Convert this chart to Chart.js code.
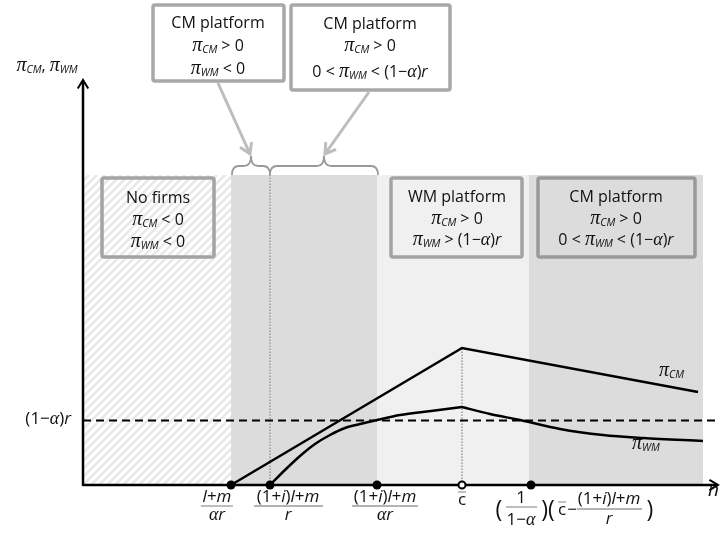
<!DOCTYPE html>
<html>
<head>
<meta charset="utf-8">
<script src="https://cdn.jsdelivr.net/npm/chart.js@4"></script>
<style>
  html, body { margin: 0; padding: 0; background: #fff; }
  #chart { display: block; }
</style>
</head>
<body>
<canvas id="chart" width="720" height="536"></canvas>
<script>
// Data (x = output n, y = profit, arbitrary units)
const tickX = [148, 187, 294, 448];          // filled markers on the n axis
const cbarX = 379;                           // c-bar (open marker)
const regionEdges = [0, 148, 294, 446, 620]; // no firms | CM | WM | CM
const regionTop = 310;
const threshold = 64.5;                      // (1-alpha) r

const cmX = [148, 379, 615];
const cmY = [0, 137, 93];

const wmRiseX = [187, 202, 217, 232, 247, 262, 277, 294, 317, 348, 379];
const wmRiseY = [0, 15, 29, 41, 50, 57, 61, 65, 70, 74, 78];
const wmFallX = [379, 407, 437, 477, 520, 560, 620];
const wmFallY = [78, 71, 65, 56, 50, 47, 44];

const xMax = 637;
const yMax = 405;

// Fonts
const SANS = '16px "Open Sans"';
const ISANS = 'italic 16px "Open Sans"';
const LSANS = '17px "Open Sans"';
const LISANS = 'italic 17px "Open Sans"';
const PI = 'italic 20px "Liberation Serif"';
const ALPHA = 'italic 18px "Liberation Serif"';
const SUB = 'italic 10.5px "Open Sans"';

const toXY = (xs, ys) => xs.map((v, i) => ({ x: v, y: ys[i] }));

function pi(sub) {
  return [['π', PI, 0], [sub, SUB, 4]];
}

function drawRuns(ctx, runs, x, y, align) {
  let w = 0;
  runs.forEach(r => { ctx.font = r[1]; w += ctx.measureText(r[0]).width; });
  let cx = align === 'left' ? x : align === 'right' ? x - w : x - w / 2;
  ctx.textAlign = 'left';
  ctx.textBaseline = 'middle';
  runs.forEach(r => {
    ctx.font = r[1];
    ctx.fillText(r[0], cx, y + (r[2] || 0));
    cx += ctx.measureText(r[0]).width;
  });
  return w;
}

function hatch(ctx) {
  const c = document.createElement('canvas');
  c.width = 8; c.height = 8;
  const p = c.getContext('2d');
  p.fillStyle = '#fff';
  p.fillRect(0, 0, 8, 8);
  p.strokeStyle = '#e8e8e8';
  p.lineWidth = 2.5;
  p.beginPath();
  p.moveTo(-2, 10); p.lineTo(10, -2);
  p.moveTo(-2, 2); p.lineTo(2, -2);
  p.moveTo(6, 10); p.lineTo(10, 6);
  p.stroke();
  return ctx.createPattern(c, 'repeat');
}

function box(ctx, l, t, r, b, color, fill) {
  ctx.save();
  ctx.lineWidth = 3.5;
  ctx.strokeStyle = color;
  ctx.beginPath();
  ctx.roundRect(l, t, r - l, b - t, 2);
  if (fill) { ctx.fillStyle = fill; ctx.fill(); }
  ctx.stroke();
  ctx.restore();
}

function line(ctx, x1, y1, x2, y2) {
  ctx.beginPath(); ctx.moveTo(x1, y1); ctx.lineTo(x2, y2); ctx.stroke();
}

function arrowHead(ctx, x1, y1, x2, y2, size) {
  const a = Math.atan2(y2 - y1, x2 - x1);
  ctx.beginPath();
  ctx.moveTo(x2 - size * Math.cos(a - 0.55), y2 - size * Math.sin(a - 0.55));
  ctx.lineTo(x2, y2);
  ctx.lineTo(x2 - size * Math.cos(a + 0.55), y2 - size * Math.sin(a + 0.55));
  ctx.stroke();
}

function brace(ctx, l, r, base) {
  const mid = (l + r) / 2, h = base - 9, tip = base - 19, rad = 7;
  ctx.beginPath();
  ctx.moveTo(l, base);
  ctx.quadraticCurveTo(l, h, l + rad, h);
  ctx.lineTo(mid - rad, h);
  ctx.quadraticCurveTo(mid, h, mid, tip);
  ctx.quadraticCurveTo(mid, h, mid + rad, h);
  ctx.lineTo(r - rad, h);
  ctx.quadraticCurveTo(r, h, r, base);
  ctx.stroke();
}

function fraction(ctx, num, den, cx, barL, barR) {
  drawRuns(ctx, num, cx, 497, 'center');
  ctx.lineWidth = 1.3;
  line(ctx, barL, 506, barR, 506);
  drawRuns(ctx, den, cx, 515, 'center');
}

function cbar(ctx, x, y) {
  ctx.font = LSANS;
  const w = ctx.measureText('c').width;
  ctx.textAlign = 'center';
  ctx.textBaseline = 'middle';
  ctx.fillText('c', x, y);
  ctx.lineWidth = 1.2;
  line(ctx, x - w / 2, y - 8, x + w / 2, y - 8);
}

const backgroundPlugin = {
  id: 'background',
  beforeDatasetsDraw(chart) {
    const { ctx, scales: { x, y } } = chart;
    const top = y.getPixelForValue(regionTop);
    const bottom = y.getPixelForValue(0);
    const fills = [hatch(ctx), '#dcdcdc', '#f0f0f0', '#dcdcdc'];
    ctx.save();
    for (let i = 0; i < regionEdges.length - 1; i++) {
      const l = x.getPixelForValue(regionEdges[i]);
      const r = x.getPixelForValue(regionEdges[i + 1]);
      ctx.fillStyle = fills[i];
      ctx.fillRect(l, top, r - l, bottom - top);
    }
    // axes
    const x0 = x.getPixelForValue(0);
    const xEnd = x.getPixelForValue(635);
    const yEnd = y.getPixelForValue(yMax);
    ctx.strokeStyle = '#000';
    ctx.lineWidth = 2.5;
    line(ctx, x0, bottom, xEnd, bottom);
    line(ctx, x0, bottom + 1, x0, yEnd + 1);
    ctx.lineWidth = 2;
    arrowHead(ctx, x0, bottom, xEnd, bottom, 10);
    arrowHead(ctx, x0, bottom, x0, yEnd, 10);
    ctx.restore();
  }
};

const annotationPlugin = {
  id: 'annotations',
  afterDraw(chart) {
    const { ctx, scales: { x, y } } = chart;
    ctx.save();
    ctx.fillStyle = '#111';
    ctx.strokeStyle = '#111';

    // top boxes
    box(ctx, 153, 5, 284, 81, '#a8a8a8', '#fff');
    box(ctx, 291, 5, 450, 90, '#a8a8a8', '#fff');
    ctx.fillStyle = '#111';
    drawRuns(ctx, [['CM platform', SANS]], 218, 23, 'center');
    drawRuns(ctx, [...pi('CM'), [' > 0', SANS]], 218, 46, 'center');
    drawRuns(ctx, [...pi('WM'), [' < 0', SANS]], 218, 69, 'center');
    drawRuns(ctx, [['CM platform', SANS]], 370, 24, 'center');
    drawRuns(ctx, [...pi('CM'), [' > 0', SANS]], 370, 46, 'center');
    drawRuns(ctx, [['0 < ', SANS], ...pi('WM'), [' < (1−', SANS], ['α', ALPHA], [')', SANS], ['r', ISANS]], 370, 72, 'center');

    // arrows from top boxes to braces
    ctx.strokeStyle = '#bdbdbd';
    ctx.lineWidth = 3;
    line(ctx, 218, 83, 250, 154);
    arrowHead(ctx, 218, 83, 250, 154, 12);
    line(ctx, 369, 92, 325, 154);
    arrowHead(ctx, 369, 92, 325, 154, 12);

    // braces over the CM region
    const top = y.getPixelForValue(regionTop);
    ctx.strokeStyle = '#9a9a9a';
    ctx.lineWidth = 1.8;
    brace(ctx, x.getPixelForValue(regionEdges[1]) + 1, x.getPixelForValue(tickX[1]), top);
    brace(ctx, x.getPixelForValue(tickX[1]), x.getPixelForValue(regionEdges[2]) + 1, top);

    // region boxes
    box(ctx, 102, 178, 214, 257, '#a3a3a3', null);
    box(ctx, 391, 178, 522, 257, '#a3a3a3', null);
    box(ctx, 538, 178, 695, 257, '#999999', null);
    ctx.fillStyle = '#111';
    drawRuns(ctx, [['No firms', SANS]], 158, 198, 'center');
    drawRuns(ctx, [...pi('CM'), [' < 0', SANS]], 158, 220, 'center');
    drawRuns(ctx, [...pi('WM'), [' < 0', SANS]], 158, 242, 'center');
    drawRuns(ctx, [['WM platform', SANS]], 457, 197, 'center');
    drawRuns(ctx, [...pi('CM'), [' > 0', SANS]], 457, 219, 'center');
    drawRuns(ctx, [...pi('WM'), [' > (1−', SANS], ['α', ALPHA], [')', SANS], ['r', ISANS]], 457, 240, 'center');
    drawRuns(ctx, [['CM platform', SANS]], 616, 197, 'center');
    drawRuns(ctx, [...pi('CM'), [' > 0', SANS]], 616, 219, 'center');
    drawRuns(ctx, [['0 < ', SANS], ...pi('WM'), [' < (1−', SANS], ['α', ALPHA], [')', SANS], ['r', ISANS]], 616, 240, 'center');

    // axis titles
    drawRuns(ctx, [...pi('CM'), [', ', SANS], ...pi('WM')], 47, 66, 'center');
    drawRuns(ctx, [['(1−', LSANS], ['α', ALPHA], [')', LSANS], ['r', LISANS]], 71, 419, 'right');
    drawRuns(ctx, [['n', 'italic 19px "Open Sans"']], 708, 491, 'left');

    // curve labels
    drawRuns(ctx, pi('CM'), 659, 371, 'left');
    drawRuns(ctx, pi('WM'), 632, 444, 'left');

    // n-axis tick labels
    const lm = [['l', LISANS], ['+', LSANS], ['m', LISANS]];
    const ilm = [['(1+', LSANS], ['i', LISANS], [')', LSANS], ['l', LISANS], ['+', LSANS], ['m', LISANS]];
    const ar = [['α', ALPHA], ['r', LISANS]];
    const rr = [['r', LISANS]];
    fraction(ctx, lm, ar, 217, 201, 233);
    fraction(ctx, ilm, rr, 288, 254, 323);
    fraction(ctx, ilm, ar, 385, 352, 418);
    cbar(ctx, x.getPixelForValue(cbarX), 500);

    // (1/(1-alpha)) (cbar - ((1+i)l+m)/r)
    const PAREN = '23px "Open Sans"';
    drawRuns(ctx, [['(', PAREN]], 499, 510, 'center');
    drawRuns(ctx, [['1', LSANS]], 521, 498, 'center');
    ctx.lineWidth = 1.3;
    line(ctx, 506, 507, 537, 507);
    drawRuns(ctx, [['1−', LSANS], ['α', ALPHA]], 521, 520, 'center');
    drawRuns(ctx, [[')(', PAREN]], 548, 510, 'center');
    cbar(ctx, 562, 510);
    drawRuns(ctx, [['−', LSANS]], 572, 510, 'center');
    drawRuns(ctx, ilm, 609, 499, 'center');
    ctx.lineWidth = 1.3;
    line(ctx, 577, 509, 642, 509);
    drawRuns(ctx, rr, 609, 519, 'center');
    drawRuns(ctx, [[')', PAREN]], 650, 510, 'center');

    ctx.restore();
  }
};

const ctx = document.getElementById('chart').getContext('2d');
new Chart(ctx, {
  type: 'scatter',
  data: {
    datasets: [
      {
        label: 'markers',
        data: tickX.map(v => ({ x: v, y: 0 })),
        pointRadius: 4.5,
        pointBackgroundColor: '#000',
        pointBorderColor: '#000',
        pointBorderWidth: 0,
        clip: false
      },
      {
        label: 'c bar',
        data: [{ x: cbarX, y: 0 }],
        pointRadius: 3.5,
        pointBackgroundColor: '#fff',
        pointBorderColor: '#000',
        pointBorderWidth: 2,
        clip: false
      },
      {
        label: 'pi CM',
        data: toXY(cmX, cmY),
        showLine: true,
        borderColor: '#000',
        borderWidth: 2.5,
        pointRadius: 0,
        clip: false
      },
      {
        label: 'pi WM rising',
        data: toXY(wmRiseX, wmRiseY),
        showLine: true,
        cubicInterpolationMode: 'monotone',
        borderColor: '#000',
        borderWidth: 2.5,
        pointRadius: 0,
        clip: false
      },
      {
        label: 'pi WM falling',
        data: toXY(wmFallX, wmFallY),
        showLine: true,
        cubicInterpolationMode: 'monotone',
        borderColor: '#000',
        borderWidth: 2.5,
        pointRadius: 0,
        clip: false
      },
      {
        label: '(1-alpha) r',
        data: [{ x: 0, y: threshold }, { x: xMax, y: threshold }],
        showLine: true,
        borderColor: '#000',
        borderWidth: 2,
        borderDash: [8, 5],
        pointRadius: 0,
        clip: false
      },
      {
        label: 'guide 1',
        data: [{ x: tickX[1], y: 0 }, { x: tickX[1], y: regionTop }],
        showLine: true,
        borderColor: '#999',
        borderWidth: 1.5,
        borderDash: [1.5, 1.5],
        pointRadius: 0
      },
      {
        label: 'guide 2',
        data: [{ x: cbarX, y: 0 }, { x: cbarX, y: cmY[1] }],
        showLine: true,
        borderColor: '#999',
        borderWidth: 1.5,
        borderDash: [1.5, 1.5],
        pointRadius: 0
      }
    ]
  },
  options: {
    responsive: false,
    animation: false,
    devicePixelRatio: 1,
    layout: { autoPadding: false, padding: { left: 83, right: 0, top: 80, bottom: 51 } },
    scales: {
      x: { type: 'linear', min: 0, max: xMax, display: false },
      y: { type: 'linear', min: 0, max: yMax, display: false }
    },
    plugins: {
      legend: { display: false },
      tooltip: { enabled: false }
    }
  },
  plugins: [backgroundPlugin, annotationPlugin]
});
</script>
</body>
</html>
